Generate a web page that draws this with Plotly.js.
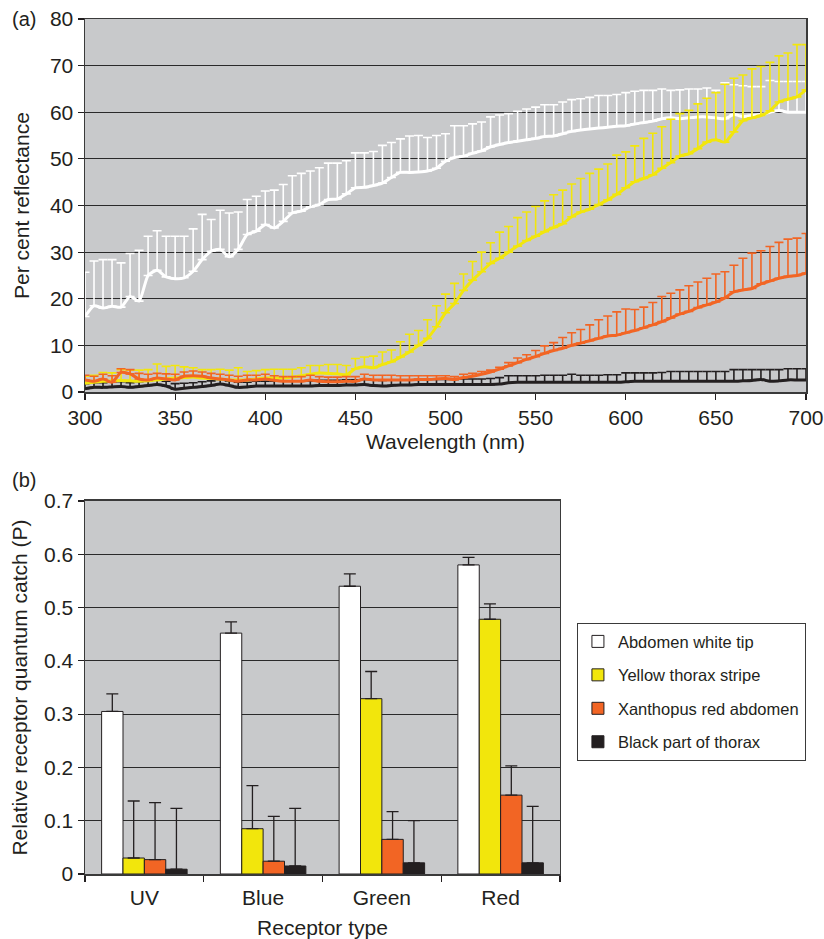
<!DOCTYPE html>
<html>
<head>
<meta charset="utf-8">
<script src="https://cdn.plot.ly/plotly-3.0.1.min.js"></script>
<style>html,body{margin:0;padding:0;background:#fff;}#chart{width:824px;height:939px;}</style>
</head>
<body>
<div id="chart"></div>
<script>
// ---------- Panel (a): reflectance spectra ----------
const wavelength = [300,305,310,315,320,325,330,335,340,345,350,355,360,365,370,375,380,385,390,395,400,405,410,415,420,425,430,435,440,445,450,455,460,465,470,475,480,485,490,495,500,505,510,515,520,525,530,535,540,545,550,555,560,565,570,575,580,585,590,595,600,605,610,615,620,625,630,635,640,645,650,655,660,665,670,675,680,685,690,695,700];

const whiteMean = [16.2,18.5,18.0,18.4,18.2,20.5,19.5,25.0,26.1,24.7,24.3,24.5,25.9,28.4,30.2,30.6,29.0,30.6,33.8,34.5,35.9,35.2,36.6,38.4,38.8,39.7,40.2,41.3,41.4,42.5,43.8,43.9,44.3,44.8,46.0,47.1,47.1,47.2,47.4,48.0,49.5,50.3,50.6,51.2,51.7,52.6,53.1,53.5,53.8,54.1,54.4,54.8,54.9,55.4,55.9,56.2,56.4,56.6,56.8,57.0,57.1,57.5,57.8,58.1,58.6,58.8,58.6,58.8,59.0,59.0,58.8,58.6,59.5,59.1,59.3,59.5,60.0,60.4,60.0,60.0,60.0];
const whiteUpper = [25.7,28.1,28.4,28.4,27.7,29.7,30.4,33.4,34.6,33.4,33.4,33.4,35.0,38.1,37.0,39.0,38.4,38.6,41.3,42.0,43.1,43.3,44.5,46.4,46.9,47.4,48.1,49.1,49.1,49.6,51.3,51.3,51.6,52.9,53.5,54.3,54.9,55.0,54.6,55.0,55.4,57.1,57.1,57.5,57.9,59.0,59.4,59.7,60.2,60.7,61.1,61.6,61.6,62.2,62.7,62.9,63.2,63.6,63.6,63.8,64.2,64.5,64.7,64.7,65.0,64.7,64.8,65.0,65.0,65.2,64.7,66.3,65.9,65.7,65.5,65.5,66.8,66.6,66.6,66.6,66.6];

const yellowMean = [1.9,2.1,2.3,2.4,2.5,2.4,2.3,2.4,2.6,2.8,3.0,3.1,3.2,3.0,2.9,2.8,2.6,2.6,2.6,2.8,3.0,3.0,3.0,3.2,3.5,3.8,4.1,4.0,3.9,3.7,5.0,5.4,5.2,5.9,6.5,7.5,8.6,10.0,11.5,14.0,17.0,19.0,21.8,24.0,25.8,27.6,28.7,30.0,31.3,32.5,33.4,34.4,35.3,36.1,37.6,38.6,39.2,40.2,41.2,42.4,43.8,45.1,45.8,46.6,48.0,49.2,50.6,51.1,52.2,53.6,54.1,53.6,55.8,58.2,58.8,59.3,60.3,62.2,62.8,63.3,64.8];
const yellowUpper = [3.4,3.6,4.2,4.1,4.8,4.7,4.7,4.8,6.0,5.5,5.7,5.4,5.2,4.8,4.8,4.9,4.7,5.2,4.4,4.6,4.8,4.9,4.9,4.9,5.2,5.7,5.7,5.9,5.9,5.7,7.2,7.5,7.7,8.6,9.0,10.8,12.4,13.2,15.5,18.5,21.0,23.3,25.3,28.0,30.0,32.0,34.3,35.5,37.4,38.6,39.8,41.0,42.3,43.3,44.6,45.8,46.9,47.8,48.9,50.8,51.5,52.8,54.4,55.5,56.9,58.5,59.7,60.4,61.8,63.0,64.2,66.0,67.3,68.0,69.3,69.8,70.7,72.1,72.7,74.5,74.5];

const orangeMean = [2.6,2.3,2.8,2.1,4.2,3.9,2.8,2.6,3.0,2.8,2.6,3.4,3.5,3.4,3.0,2.8,2.6,2.3,2.6,2.6,2.8,2.5,2.3,2.3,2.3,2.6,2.3,2.2,2.2,2.3,2.3,2.8,2.6,2.6,2.6,2.6,2.6,2.7,2.7,2.8,2.9,2.7,3.1,3.4,3.8,4.3,4.9,5.6,6.3,7.0,7.6,8.3,8.9,9.4,10.0,10.5,11.0,11.5,12.0,12.2,12.7,13.2,13.8,14.4,15.1,15.9,16.7,17.3,18.1,18.7,19.3,20.2,21.5,21.9,22.2,23.2,23.8,24.4,24.8,25.0,25.5];
const orangeUpper = [3.6,3.4,3.8,3.5,5.0,4.8,4.0,3.8,4.0,3.9,3.8,4.3,4.5,4.3,4.0,3.8,3.6,3.4,3.6,3.6,3.8,3.5,3.3,3.3,3.3,3.6,3.3,3.2,3.2,3.3,3.3,3.8,3.6,3.6,3.6,3.5,3.5,3.5,3.5,3.5,3.5,3.3,3.8,4.0,4.4,4.7,5.3,6.3,7.3,8.0,8.9,9.9,10.6,11.7,12.7,13.4,14.4,15.5,16.3,17.2,17.8,17.7,18.2,19.2,20.5,21.2,21.9,22.8,23.6,24.4,25.3,25.8,27.2,28.7,29.8,30.3,31.2,32.1,32.8,33.0,34.0];

const blackMean = [0.7,1.0,1.0,1.1,1.2,1.0,1.2,1.4,1.6,1.3,0.6,0.8,1.0,1.2,1.4,1.7,1.4,1.0,1.1,1.3,1.3,1.3,1.3,1.3,1.3,1.3,1.4,1.4,1.4,1.5,1.5,1.6,1.4,1.3,1.4,1.5,1.5,1.6,1.6,1.6,1.6,1.6,1.6,1.6,1.6,1.6,1.7,2.0,2.1,2.1,2.1,2.1,2.1,2.1,2.1,2.1,2.1,2.1,2.1,2.1,2.2,2.3,2.3,2.3,2.3,2.3,2.3,2.3,2.3,2.3,2.3,2.3,2.3,2.4,2.5,2.7,2.3,2.4,2.6,2.6,2.6];
const blackUpper = [1.8,2.0,2.0,2.1,2.2,2.0,2.2,2.4,2.6,2.3,1.8,1.9,2.0,2.2,2.4,2.7,2.4,2.1,2.1,2.3,2.3,2.3,2.3,2.3,2.3,2.4,2.5,2.5,2.5,2.6,2.6,2.7,2.6,2.5,2.6,2.6,2.6,2.7,2.7,2.7,2.7,2.7,2.8,2.8,2.8,2.9,3.1,3.5,3.5,3.5,3.5,3.6,3.6,3.6,3.8,3.6,3.6,3.6,3.7,3.7,4.1,4.1,4.1,4.1,4.2,4.4,4.4,4.4,4.4,4.4,4.4,4.4,4.8,4.8,4.8,4.8,4.8,4.8,5.0,5.0,5.0];

// ---------- Panel (b): receptor quantum catch ----------
const receptors = ['UV', 'Blue', 'Green', 'Red'];
const seriesNames = ['Abdomen white tip', 'Yellow thorax stripe', 'Xanthopus red abdomen', 'Black part of thorax'];
const catchWhite  = [0.305, 0.452, 0.540, 0.580];
const catchYellow = [0.030, 0.085, 0.329, 0.478];
const catchOrange = [0.027, 0.024, 0.065, 0.148];
const catchBlack  = [0.009, 0.015, 0.021, 0.021];
const upperWhite  = [0.338, 0.473, 0.563, 0.594];
const upperYellow = [0.137, 0.166, 0.380, 0.507];
const upperOrange = [0.134, 0.108, 0.117, 0.203];
const upperBlack  = [0.123, 0.123, 0.100, 0.127];

const colWhite = '#ffffff', colYellow = '#f2e60c', colOrange = '#f26524', colBlack = '#231f20';
const diff = (u, m) => u.map((v, i) => +(v - m[i]).toFixed(3));
const zeros = n => new Array(n).fill(0);

function lineTrace(y, up, color) {
  return {
    type: 'scatter', mode: 'lines', x: wavelength, y: y,
    xaxis: 'x', yaxis: 'y', showlegend: false, hoverinfo: 'skip',
    line: {color: color, width: 3, shape: 'spline', smoothing: 0.6},
    error_y: {type: 'data', symmetric: false, array: diff(up, y), arrayminus: zeros(y.length),
              color: color, thickness: 1.6, width: 4.5}
  };
}
function barTrace(name, y, up, color, grp) {
  return {
    type: 'bar', name: name, x: receptors, y: y, xaxis: 'x2', yaxis: 'y2',
    legendgroup: grp,
    marker: {color: color, line: {color: '#231f20', width: 1}},
    error_y: {type: 'data', symmetric: false, array: diff(up, y), arrayminus: zeros(y.length),
              color: '#231f20', thickness: 1.3, width: 6}
  };
}

const data = [
  lineTrace(blackMean, blackUpper, colBlack),
  lineTrace(whiteMean, whiteUpper, colWhite),
  lineTrace(yellowMean, yellowUpper, colYellow),
  lineTrace(orangeMean, orangeUpper, colOrange),
  barTrace(seriesNames[0], catchWhite, upperWhite, colWhite, 'g1'),
  barTrace(seriesNames[1], catchYellow, upperYellow, colYellow, 'g2'),
  barTrace(seriesNames[2], catchOrange, upperOrange, colOrange, 'g3'),
  barTrace(seriesNames[3], catchBlack, upperBlack, colBlack, 'g4')
];

const FONT = 'Liberation Sans, Arial, sans-serif';
const TXT = '#231f20';
const axisCommon = {
  showline: true, linecolor: '#3a3a3a', linewidth: 1.5, mirror: true,
  ticks: 'outside', ticklen: 6, tickwidth: 1.2, tickcolor: '#231f20',
  tickfont: {family: FONT, size: 21, color: TXT}, zeroline: false
};

const layout = {
  width: 824, height: 939,
  margin: {l: 85, r: 18, t: 19, b: 65},
  paper_bgcolor: '#ffffff',
  font: {family: FONT, color: TXT},
  barmode: 'group', bargap: 0.28, bargroupgap: 0,
  xaxis: Object.assign({}, axisCommon, {
    domain: [0, 1], anchor: 'y', range: [300, 700], dtick: 50, showgrid: false,
    title: {text: 'Wavelength (nm)', font: {family: FONT, size: 21, color: TXT}, standoff: 6}
  }),
  yaxis: Object.assign({}, axisCommon, {
    domain: [0.5637, 1], anchor: 'x', range: [0, 80], dtick: 10,
    showgrid: true, gridcolor: '#2a2a2a', gridwidth: 1,
    title: {text: 'Per cent reflectance', font: {family: FONT, size: 21, color: TXT}, standoff: 14}
  }),
  xaxis2: Object.assign({}, axisCommon, {
    domain: [0, 0.6588], anchor: 'y2', type: 'category', tickson: 'boundaries', showgrid: false,
    ticklabelstandoff: 4,
    title: {text: 'Receptor type', font: {family: FONT, size: 21, color: TXT}, standoff: 12}
  }),
  yaxis2: Object.assign({}, axisCommon, {
    domain: [0, 0.4363], anchor: 'x2', range: [0, 0.7], dtick: 0.1,
    showgrid: true, gridcolor: '#2a2a2a', gridwidth: 1,
    title: {text: 'Relative receptor quantum catch (P)', font: {family: FONT, size: 21, color: TXT}, standoff: 10}
  }),
  plot_bgcolor: '#c8c9cb',
  legend: {
    x: 0.682, y: 0.2936, xanchor: 'left', yanchor: 'top',
    bgcolor: '#ffffff', bordercolor: '#3a3a3a', borderwidth: 1.2,
    font: {family: FONT, size: 16.5, color: TXT},
    tracegroupgap: 9, itemwidth: 30, traceorder: 'grouped'
  },
  annotations: [
    {text: '(a)', xref: 'paper', yref: 'paper', x: -0.104, y: 1.0, xanchor: 'left', yanchor: 'middle',
     showarrow: false, font: {family: FONT, size: 20, color: TXT}},
    {text: '(b)', xref: 'paper', yref: 'paper', x: -0.104, y: 0.4609, xanchor: 'left', yanchor: 'middle',
     showarrow: false, font: {family: FONT, size: 20, color: TXT}}
  ]
};

Plotly.newPlot('chart', data, layout, {displayModeBar: false, staticPlot: true});
</script>
</body>
</html>
